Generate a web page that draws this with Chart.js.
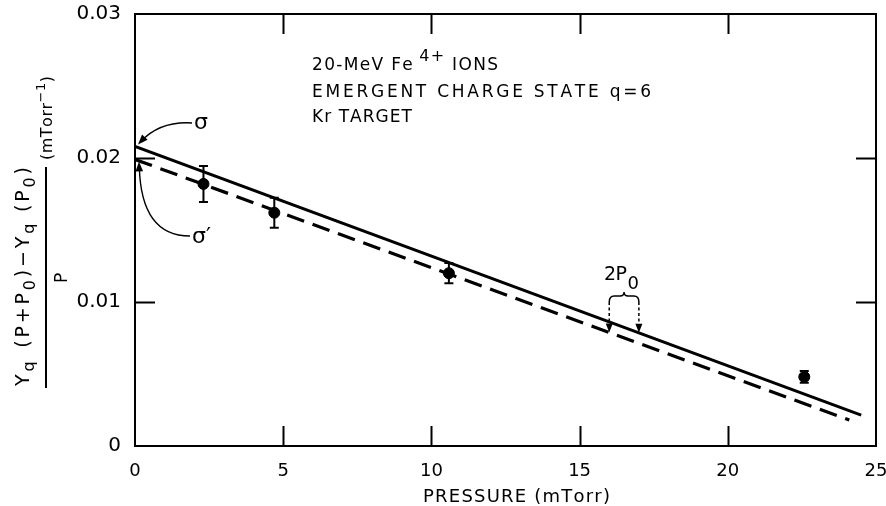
<!DOCTYPE html>
<html>
<head>
<meta charset="utf-8">
<script src="https://cdn.jsdelivr.net/npm/chart.js@4/dist/chart.umd.min.js"></script>
<style>
  html, body { margin: 0; padding: 0; background: #fff; }
  #c { display: block; }
</style>
</head>
<body>
<canvas id="c" width="886" height="506"></canvas>
<script>
// ---------- data ----------
const pressure = [2.31, 4.70, 10.59, 22.58];          // mTorr
const ratio    = [0.0182, 0.0162, 0.0120, 0.0048];    // (mTorr^-1)
const ratioErr = [0.00125, 0.00104, 0.0007, 0.0004];

const sigmaLineX      = [0, 24.5];
const sigmaLineY      = [0.0208, 0.00215];
const sigmaPrimeLineX = [0, 24.1];
const sigmaPrimeLineY = [0.0199, 0.0018];

const xTicks = [0, 5, 10, 15, 20, 25];
const xTickLabels = ['0', '5', '10', '15', '20', '25'];
const yTicks = [0, 0.01, 0.02, 0.03];
const yTickLabels = ['0', '0.01', '0.02', '0.03'];

// 2P0 marker positions (pressure values)
const p0MarkX = [16, 17];

const FONT = "'DejaVu Sans', sans-serif";

// ---------- helpers ----------
function lineAt(xs, ys, x) {
  const t = (x - xs[0]) / (xs[1] - xs[0]);
  return ys[0] + t * (ys[1] - ys[0]);
}

function drawRich(ctx, segs, x, y, target) {
  let total = 0, n = 0;
  segs.forEach(s => {
    ctx.font = s.size + 'px ' + FONT;
    for (const ch of s.t) { total += ctx.measureText(ch).width; n++; }
    if (s.gapBefore) total += s.gapBefore;
  });
  const extra = (target && n > 1) ? (target - total) / (n - 1) : 0;
  let cx = x;
  segs.forEach(s => {
    ctx.font = s.size + 'px ' + FONT;
    if (s.gapBefore) cx += s.gapBefore;
    for (const ch of s.t) {
      ctx.fillText(ch, cx, y + (s.dy || 0));
      cx += ctx.measureText(ch).width + extra;
    }
  });
}

function arrowHead(ctx, fromX, fromY, tipX, tipY, len, half) {
  const a = Math.atan2(tipY - fromY, tipX - fromX);
  ctx.beginPath();
  ctx.moveTo(tipX, tipY);
  ctx.lineTo(tipX - len * Math.cos(a) + half * Math.sin(a), tipY - len * Math.sin(a) - half * Math.cos(a));
  ctx.lineTo(tipX - len * Math.cos(a) - half * Math.sin(a), tipY - len * Math.sin(a) + half * Math.cos(a));
  ctx.closePath();
  ctx.fill();
}

function zeroPad(s) { s.paddingLeft = 0; s.paddingRight = 0; s.paddingTop = 0; s.paddingBottom = 0; }

// ---------- plugins ----------
const bgPlugin = {
  id: 'bg',
  beforeDraw(chart) {
    const ctx = chart.ctx;
    ctx.save();
    ctx.fillStyle = '#fff';
    ctx.fillRect(0, 0, chart.width, chart.height);
    ctx.restore();
  }
};

const framePlugin = {
  id: 'frame',
  afterDraw(chart) {
    const { ctx, chartArea: a, scales: { x, y } } = chart;
    ctx.save();
    ctx.strokeStyle = '#000';
    ctx.lineWidth = 2;
    ctx.strokeRect(a.left, a.top, a.right - a.left, a.bottom - a.top);
    const L = 20;
    ctx.beginPath();
    xTicks.slice(1, -1).forEach(v => {
      const px = Math.round(x.getPixelForValue(v)) + 0.5;
      ctx.moveTo(px, a.bottom); ctx.lineTo(px, a.bottom - L);
      ctx.moveTo(px, a.top); ctx.lineTo(px, a.top + L);
    });
    yTicks.slice(1, -1).forEach(v => {
      const py = Math.round(y.getPixelForValue(v)) + 0.5;
      ctx.moveTo(a.left, py); ctx.lineTo(a.left + L, py);
      ctx.moveTo(a.right, py); ctx.lineTo(a.right - L, py);
    });
    ctx.stroke();
    ctx.restore();
  }
};

const errorBarPlugin = {
  id: 'errbars',
  afterDatasetsDraw(chart) {
    const { ctx, scales: { x, y } } = chart;
    ctx.save();
    ctx.strokeStyle = '#000';
    ctx.lineWidth = 2;
    pressure.forEach((p, i) => {
      const px = x.getPixelForValue(p);
      const top = y.getPixelForValue(ratio[i] + ratioErr[i]);
      const bot = y.getPixelForValue(ratio[i] - ratioErr[i]);
      const cap = 4.5;
      ctx.beginPath();
      ctx.moveTo(px, top); ctx.lineTo(px, bot);
      ctx.moveTo(px - cap, top); ctx.lineTo(px + cap, top);
      ctx.moveTo(px - cap, bot); ctx.lineTo(px + cap, bot);
      ctx.stroke();
    });
    ctx.restore();
  }
};

const annotationPlugin = {
  id: 'annot',
  afterDraw(chart) {
    const { ctx, scales: { x, y } } = chart;
    ctx.save();
    ctx.fillStyle = '#000';
    ctx.strokeStyle = '#000';
    ctx.textBaseline = 'alphabetic';
    ctx.textAlign = 'left';

    // text block
    drawRich(ctx, [
      { t: '20-MeV Fe', size: 17 },
      { t: '4+', size: 16, dy: -9, gapBefore: 5 },
      { t: ' IONS', size: 17 }
    ], 312, 70, 186);
    drawRich(ctx, [{ t: 'EMERGENT CHARGE STATE q=6', size: 17 }], 312, 97, 339);
    drawRich(ctx, [{ t: 'Kr TARGET', size: 17 }], 312, 122, 100);

    // sigma arrows
    const x0 = x.getPixelForValue(0);
    const ySig = y.getPixelForValue(sigmaLineY[0]);
    const ySigP = y.getPixelForValue(sigmaPrimeLineY[0]);
    ctx.lineWidth = 1.4;
    let sx = 192, sy = 123, cx = 160, cy = 121, tx = x0 + 3, ty = ySig - 2;
    ctx.beginPath(); ctx.moveTo(sx, sy); ctx.quadraticCurveTo(cx, cy, tx + 3, ty - 3); ctx.stroke();
    arrowHead(ctx, cx, cy, tx, ty, 10, 3.8);
    ctx.font = '22px ' + FONT;
    ctx.fillText('σ', 194, 129);
    sx = 190; sy = 236; cx = 141; cy = 236; tx = x0 + 4; ty = ySigP + 2;
    ctx.beginPath(); ctx.moveTo(sx, sy); ctx.quadraticCurveTo(cx, cy, tx + 0.3, ty + 5); ctx.stroke();
    arrowHead(ctx, cx, cy, tx, ty, 10, 3.8);
    ctx.font = '22px ' + FONT;
    ctx.fillText('σ′', 192, 243);

    // 2P0 marker
    const xa = x.getPixelForValue(p0MarkX[0]);
    const xb = x.getPixelForValue(p0MarkX[1]);
    const tipA = y.getPixelForValue(lineAt(sigmaPrimeLineX, sigmaPrimeLineY, p0MarkX[0]));
    const tipB = y.getPixelForValue(lineAt(sigmaLineX, sigmaLineY, p0MarkX[1]));
    const bt = 296, be = 302;
    const xm = (xa + xb) / 2;
    ctx.lineWidth = 1.5;
    ctx.beginPath();
    ctx.moveTo(xa, be);
    ctx.quadraticCurveTo(xa, bt, xa + 5, bt);
    ctx.lineTo(xm - 4, bt);
    ctx.quadraticCurveTo(xm, bt, xm, bt - 4);
    ctx.quadraticCurveTo(xm, bt, xm + 4, bt);
    ctx.lineTo(xb - 5, bt);
    ctx.quadraticCurveTo(xb, bt, xb, be);
    ctx.stroke();
    ctx.setLineDash([3, 2.5]);
    ctx.beginPath();
    ctx.moveTo(xa, be); ctx.lineTo(xa, tipA - 7);
    ctx.moveTo(xb, be); ctx.lineTo(xb, tipB - 7);
    ctx.stroke();
    ctx.setLineDash([]);
    arrowHead(ctx, xa, tipA - 20, xa, tipA, 9, 3.5);
    arrowHead(ctx, xb, tipB - 20, xb, tipB, 9, 3.5);
    drawRich(ctx, [
      { t: '2P', size: 19 },
      { t: '0', size: 18, dy: 9, gapBefore: 1 }
    ], 604, 280, 35);

    // x-axis title
    drawRich(ctx, [{ t: 'PRESSURE (mTorr)', size: 18 }], 423, 502, 187);

    // y-axis title (rotated fraction)
    ctx.save();
    ctx.translate(29, 386);
    ctx.rotate(-Math.PI / 2);
    drawRich(ctx, [
      { t: 'Y', size: 19 },
      { t: 'q', size: 16, dy: 5 },
      { t: ' (P+P', size: 19, gapBefore: 2 },
      { t: '0', size: 16, dy: 6 },
      { t: ')−Y', size: 19 },
      { t: 'q', size: 16, dy: 5 },
      { t: ' (P', size: 19 },
      { t: '0', size: 16, dy: 6 },
      { t: ')', size: 19 }
    ], 0, 0, 219);
    ctx.restore();
    ctx.lineWidth = 2;
    ctx.beginPath();
    ctx.moveTo(46, 167); ctx.lineTo(46, 388);
    ctx.stroke();
    ctx.save();
    ctx.translate(67, 283);
    ctx.rotate(-Math.PI / 2);
    ctx.font = '17px ' + FONT;
    ctx.fillText('P', 0, 0);
    ctx.restore();
    ctx.save();
    ctx.translate(52, 160);
    ctx.rotate(-Math.PI / 2);
    drawRich(ctx, [
      { t: '(mTorr', size: 16 },
      { t: '−1', size: 13, dy: -7 },
      { t: ')', size: 16 }
    ], 0, 0, 84);
    ctx.restore();

    ctx.restore();
  }
};

// ---------- chart ----------
const ctx = document.getElementById('c').getContext('2d');
new Chart(ctx, {
  type: 'scatter',
  data: {
    datasets: [
      {
        label: 'measured',
        data: pressure.map((p, i) => ({ x: p, y: ratio[i] })),
        backgroundColor: '#000',
        borderColor: '#000',
        pointRadius: 5.5,
        showLine: false
      },
      {
        label: 'sigma',
        data: sigmaLineX.map((v, i) => ({ x: v, y: sigmaLineY[i] })),
        borderColor: '#000',
        borderWidth: 3,
        pointRadius: 0,
        showLine: true
      },
      {
        label: 'sigma prime',
        data: sigmaPrimeLineX.map((v, i) => ({ x: v, y: sigmaPrimeLineY[i] })),
        borderColor: '#000',
        borderWidth: 3.2,
        borderDash: [18, 9],
        pointRadius: 0,
        showLine: true
      }
    ]
  },
  options: {
    responsive: false,
    animation: false,
    devicePixelRatio: 1,
    layout: { padding: { left: 0, top: 14, right: 10, bottom: 0 }, autoPadding: false },
    plugins: { legend: { display: false }, tooltip: { enabled: false } },
    scales: {
      x: {
        type: 'linear', min: 0, max: 25,
        afterBuildTicks: s => { s.ticks = xTicks.map(v => ({ value: v })); },
        afterFit: s => { s.height = 60; zeroPad(s); },
        grid: { display: false, drawTicks: false },
        border: { display: false },
        ticks: {
          color: '#000', padding: 15, maxRotation: 0, autoSkip: false,
          font: { family: FONT, size: 18 },
          callback: v => xTickLabels[xTicks.indexOf(v)]
        }
      },
      y: {
        type: 'linear', min: 0, max: 0.03,
        afterBuildTicks: s => { s.ticks = yTicks.map(v => ({ value: v })); },
        afterFit: s => { s.width = 135; zeroPad(s); },
        grid: { display: false, drawTicks: false },
        border: { display: false },
        ticks: {
          color: '#000', padding: 14, autoSkip: false,
          font: { family: FONT, size: 20 },
          callback: v => yTickLabels[yTicks.indexOf(v)]
        }
      }
    }
  },
  plugins: [bgPlugin, errorBarPlugin, framePlugin, annotationPlugin]
});
</script>
</body>
</html>
